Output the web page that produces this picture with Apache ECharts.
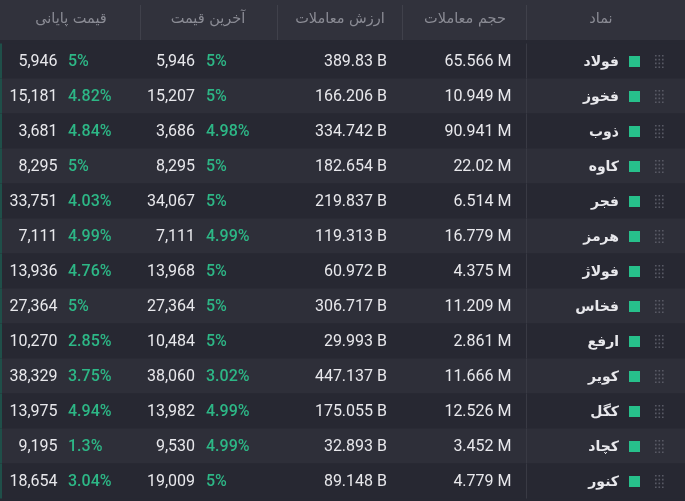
<!DOCTYPE html>
<html>
<head>
<meta charset="utf-8">
<script src="https://cdn.jsdelivr.net/npm/echarts@6/dist/echarts.min.js"></script>
<style>
  html, body { margin: 0; padding: 0; background: #272832; }
  #main { width: 685px; height: 501px; }
</style>
</head>
<body>
<div id="main"></div>
<script>
// نمادها و ستون‌های جدول
const headers = ['قیمت پایانی', 'آخرین قیمت', 'ارزش معاملات', 'حجم معاملات', 'نماد'];
const names = ['فولاد', 'فخوز', 'ذوب', 'کاوه', 'فجر', 'هرمز', 'فولاژ', 'فخاس', 'ارفع', 'کویر', 'کگل', 'کچاد', 'کنور'];
const volumeM = [65.566, 10.949, 90.941, 22.02, 6.514, 16.779, 4.375, 11.209, 2.861, 11.666, 12.526, 3.452, 4.779];
const valueB = [389.83, 166.206, 334.742, 182.654, 219.837, 119.313, 60.972, 306.717, 29.993, 447.137, 175.055, 32.893, 89.148];
const lastPrice = [5946, 15207, 3686, 8295, 34067, 7111, 13968, 27364, 10484, 38060, 13982, 9530, 19009];
const lastChg = [5, 5, 4.98, 5, 5, 4.99, 5, 5, 5, 3.02, 4.99, 4.99, 5];
const closePrice = [5946, 15181, 3681, 8295, 33751, 7111, 13936, 27364, 10270, 38329, 13975, 9195, 18654];
const closeChg = [5, 4.82, 4.84, 5, 4.03, 4.99, 4.76, 5, 2.85, 3.75, 4.94, 1.3, 3.04];

const HEADER_H = 40;
const numFont = '16px Roboto, "DejaVu Sans", sans-serif';
const pctFont = '500 16px Roboto, "DejaVu Sans", sans-serif';
const nameFont = 'bold 14px "DejaVu Sans", sans-serif';
const white = '#e8e8ec';
const green = '#2db786';

function fmt(n) {
    return n.toLocaleString('en-US');
}

function txt(x, y, text, fill, font, align) {
    return {
        type: 'text',
        style: { x, y: y + 1, text, fill, font, align, textAlign: align, verticalAlign: 'middle', textVerticalAlign: 'middle' }
    };
}

function renderRow(params, api) {
    const i = params.dataIndex;
    const c = api.coord([0, i]);
    const h = api.size([0, 1])[1];
    const y = c[1];
    const top = y - h / 2;
    const X = (v) => api.coord([v, i])[0];
    const kids = [];
    kids.push({ type: 'rect', shape: { x: 0, y: top, width: 685, height: h },
        style: { fill: i % 2 === 0 ? '#272832' : '#2e2f39' } });
    kids.push({ type: 'rect', shape: { x: 0, y: top, width: 2, height: h }, style: { fill: '#1f4f49' } });
    kids.push({ type: 'rect', shape: { x: X(526), y: top, width: 1, height: h }, style: { fill: '#393a44' } });
    // قیمت پایانی
    kids.push(txt(X(57.5), y, fmt(closePrice[i]), white, numFont, 'right'));
    kids.push(txt(X(68), y, closeChg[i] + '%', green, pctFont, 'left'));
    // آخرین قیمت
    kids.push(txt(X(195), y, fmt(lastPrice[i]), white, numFont, 'right'));
    kids.push(txt(X(206), y, lastChg[i] + '%', green, pctFont, 'left'));
    // ارزش و حجم
    kids.push(txt(X(387), y, valueB[i] + ' B', white, numFont, 'right'));
    kids.push(txt(X(511.5), y, volumeM[i] + ' M', white, numFont, 'right'));
    // نماد
    kids.push(txt(X(619), y, names[i], white, nameFont, 'right'));
    kids.push({ type: 'rect', shape: { x: X(629), y: y - 5, width: 11, height: 11 }, style: { fill: '#27c08b' } });
    for (let r = 0; r < 4; r++) {
        for (let k = 0; k < 3; k++) {
            kids.push({ type: 'rect', shape: { x: X(655) + k * 3.5, y: y - 6 + r * 3.8, width: 1.6, height: 1.6 },
                style: { fill: '#585964' } });
        }
    }
    return { type: 'group', children: kids };
}

const headerX = [71, 208, 340, 465, 601];
const sepX = [140, 277, 402, 526];
const graphics = [
    { type: 'rect', shape: { x: 0, y: 0, width: 685, height: HEADER_H }, style: { fill: '#31323c' } }
];
sepX.forEach(x => graphics.push({ type: 'rect', shape: { x: x, y: 5, width: 1, height: HEADER_H - 5 }, style: { fill: '#40414b' } }));
headers.forEach((t, k) => graphics.push({
    type: 'text', x: headerX[k], y: HEADER_H / 2 - 1,
    style: { text: t, fill: '#8b8c95', font: '14.5px "DejaVu Sans", sans-serif', align: 'center', textAlign: 'center', verticalAlign: 'middle', textVerticalAlign: 'middle' }
}));

const chart = echarts.init(document.getElementById('main'), null, { renderer: 'canvas' });
chart.setOption({
    backgroundColor: '#272832',
    animation: false,
    grid: { left: 0, right: 0, top: 43.5, bottom: 2.5 },
    xAxis: { type: 'value', min: 0, max: 685, show: false },
    yAxis: { type: 'category', data: names, inverse: true, show: false },
    graphic: graphics,
    series: [{
        type: 'custom',
        renderItem: renderRow,
        data: names.map((n, i) => [0, i]),
        encode: { x: 0, y: 1 },
        clip: false
    }]
});
</script>
</body>
</html>
